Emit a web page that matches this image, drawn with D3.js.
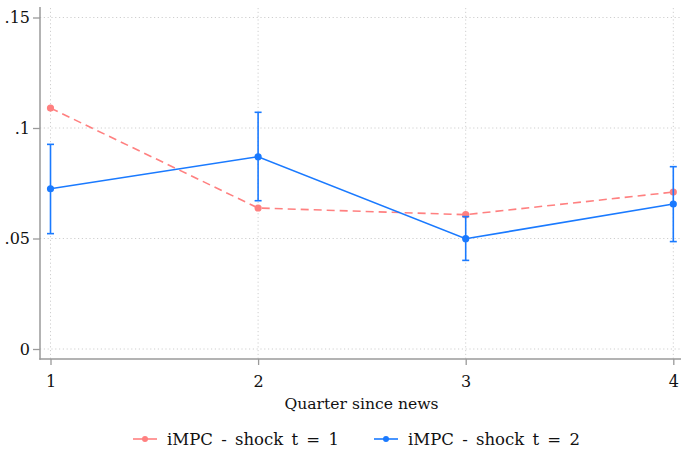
<!DOCTYPE html>
<html>
<head>
<meta charset="utf-8">
<script src="https://cdn.jsdelivr.net/npm/d3@7"></script>
<style>
  html, body { margin: 0; padding: 0; background: #fff; }
  svg { display: block; }
</style>
</head>
<body>
<svg id="chart" width="681" height="449"></svg>
<script>
// Quarters since the news shock
const quarters = [1, 2, 3, 4];

// iMPC response to a shock in t = 1 (point estimates)
const impcShock1 = [0.109, 0.0638, 0.0608, 0.0710];

// iMPC response to a shock in t = 2 with confidence bands
const impcShock2 = [0.0725, 0.0870, 0.0499, 0.0656];
const impcShock2Lo = [0.0522, 0.0671, 0.0401, 0.0486];
const impcShock2Hi = [0.0926, 0.1071, 0.0599, 0.0825];

const yTicks = [0, 0.05, 0.1, 0.15];
const yTickLabels = ["0", ".05", ".1", ".15"];
const seriesNames = ["iMPC - shock t = 1", "iMPC - shock t = 2"];

const red = "#ff8080";
const blue = "#1a7aff";
const FONT = "'DejaVu Serif', 'Liberation Serif', serif";

const svg = d3.select("#chart");
const W = 681;

const x = d3.scaleLinear().domain([1, 4]).range([50.5, 673.3]);
const y = d3.scaleLinear().domain([0, 0.15]).range([349, 17.5]);

const axisLeftX = 40, axisBottomY = 359;

// gridlines
const grid = svg.append("g")
  .attr("stroke", "#cfcfcf").attr("stroke-width", 1)
  .attr("stroke-dasharray", "1.2,2.6");
grid.selectAll("line.h").data(yTicks).join("line")
  .attr("x1", axisLeftX).attr("x2", W)
  .attr("y1", d => y(d)).attr("y2", d => y(d));
grid.selectAll("line.v").data(quarters).join("line")
  .attr("x1", d => x(d)).attr("x2", d => x(d))
  .attr("y1", 8).attr("y2", axisBottomY);

// y axis
const yAxis = d3.axisLeft(y).tickValues(yTicks)
  .tickFormat((d, i) => yTickLabels[i]).tickSize(7).tickPadding(3);
const gy = svg.append("g").attr("transform", `translate(${axisLeftX},0)`).call(yAxis)
  .attr("font-family", FONT).attr("font-size", 16);
gy.select(".domain").remove();
gy.selectAll(".tick line").attr("stroke", "#9a9a9a").attr("stroke-width", 1.3);
gy.selectAll(".tick text").attr("fill", "#111");
svg.append("line").attr("x1", axisLeftX).attr("x2", axisLeftX)
  .attr("y1", 7).attr("y2", axisBottomY + 0.7)
  .attr("stroke", "#9a9a9a").attr("stroke-width", 1.5);

// x axis
const xAxis = d3.axisBottom(x).tickValues(quarters)
  .tickFormat(d3.format("d")).tickSize(6).tickPadding(11);
const gx = svg.append("g").attr("transform", `translate(0,${axisBottomY})`).call(xAxis)
  .attr("font-family", FONT).attr("font-size", 16);
gx.select(".domain").remove();
gx.selectAll(".tick line").attr("stroke", "#9a9a9a").attr("stroke-width", 1.3);
gx.selectAll(".tick text").attr("fill", "#111");
svg.append("line").attr("x1", axisLeftX - 0.7).attr("x2", W)
  .attr("y1", axisBottomY).attr("y2", axisBottomY)
  .attr("stroke", "#9a9a9a").attr("stroke-width", 1.5);

svg.append("text").attr("x", (axisLeftX + W) / 2 + 1).attr("y", 409)
  .attr("text-anchor", "middle").attr("font-size", 15.6)
  .attr("font-family", FONT).attr("fill", "#111")
  .text("Quarter since news");

// series 1: dashed line with markers
const line = d3.line().x(d => x(d[0])).y(d => y(d[1]));
const s1 = quarters.map((q, i) => [q, impcShock1[i]]);
const s2 = quarters.map((q, i) => [q, impcShock2[i]]);

svg.append("path").datum(s1).attr("d", line)
  .attr("fill", "none").attr("stroke", red).attr("stroke-width", 1.6)
  .attr("stroke-dasharray", "8,5");
svg.append("g").selectAll("circle").data(s1).join("circle")
  .attr("cx", d => x(d[0])).attr("cy", d => y(d[1])).attr("r", 3.6)
  .attr("fill", red);

// series 2: error bars, line and markers
const eb = svg.append("g").attr("stroke", blue).attr("stroke-width", 1.6);
quarters.forEach((q, i) => {
  const cx = x(q);
  eb.append("line").attr("x1", cx).attr("x2", cx)
    .attr("y1", y(impcShock2Lo[i])).attr("y2", y(impcShock2Hi[i]));
  eb.append("line").attr("x1", cx - 3.5).attr("x2", cx + 3.5)
    .attr("y1", y(impcShock2Lo[i])).attr("y2", y(impcShock2Lo[i]));
  eb.append("line").attr("x1", cx - 3.5).attr("x2", cx + 3.5)
    .attr("y1", y(impcShock2Hi[i])).attr("y2", y(impcShock2Hi[i]));
});
svg.append("path").datum(s2).attr("d", line)
  .attr("fill", "none").attr("stroke", blue).attr("stroke-width", 1.6);
svg.append("g").selectAll("circle").data(s2).join("circle")
  .attr("cx", d => x(d[0])).attr("cy", d => y(d[1])).attr("r", 3.6)
  .attr("fill", blue);

// legend
const legendItems = [
  { name: seriesNames[0], color: red, x0: 133 },
  { name: seriesNames[1], color: blue, x0: 374 }
];
const lg = svg.append("g").attr("font-family", FONT).attr("font-size", 16.5)
  .attr("word-spacing", 3);
legendItems.forEach(it => {
  lg.append("line").attr("x1", it.x0).attr("x2", it.x0 + 24)
    .attr("y1", 439).attr("y2", 439)
    .attr("stroke", it.color).attr("stroke-width", 1.6);
  lg.append("circle").attr("cx", it.x0 + 12).attr("cy", 439).attr("r", 3)
    .attr("fill", it.color);
  lg.append("text").attr("x", it.x0 + 34).attr("y", 445)
    .attr("fill", "#111").text(it.name);
});
</script>
</body>
</html>
